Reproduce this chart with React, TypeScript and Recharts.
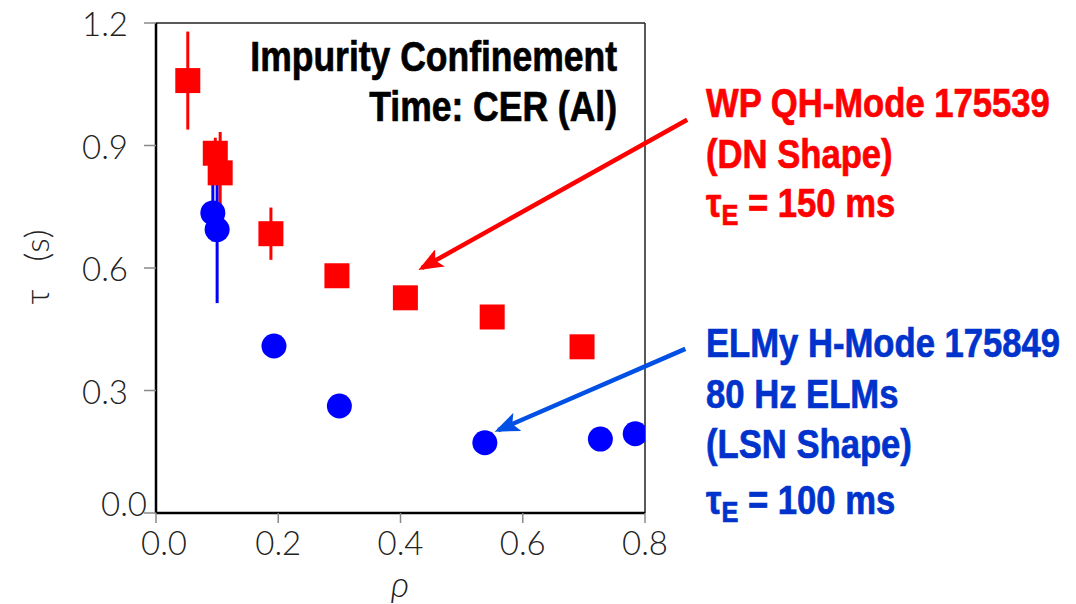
import React from "react";
import {
  ScatterChart,
  Scatter,
  XAxis,
  YAxis,
  ErrorBar,
  ReferenceLine,
  Customized,
} from "recharts";

// WP QH-mode 175539 (red squares)
const qhRho = [0.052, 0.097, 0.105, 0.188, 0.296, 0.408, 0.55, 0.697];
const qhTau = [1.059, 0.881, 0.833, 0.684, 0.581, 0.527, 0.48, 0.407];
const qhErr = [0.12, 0.038, 0.1, 0.064, 0, 0, 0, 0];

// ELMy H-mode 175849 (blue circles)
const hRho = [0.093, 0.1, 0.193, 0.3, 0.538, 0.727, 0.784];
const hTau = [0.735, 0.694, 0.409, 0.262, 0.172, 0.181, 0.194];
const hErr = [0.07, 0.18, 0, 0, 0, 0, 0];

const xTicks = [0, 0.2, 0.4, 0.6, 0.8];
const yTicks = [0, 0.3, 0.6, 0.9, 1.2];

// arrows: [x1, y1, x2, y2] in data units
const redArrow = [0.869, 0.963, 0.435, 0.6];
const blueArrow = [0.866, 0.402, 0.56, 0.203];

const qhData = qhRho.map((r, i) => ({ rho: r, tau: qhTau[i], err: qhErr[i] }));
const hData = hRho.map((r, i) => ({ rho: r, tau: hTau[i], err: hErr[i] }));

const RED = "#ff0000";
const BLUE = "#0000ff";
const tickFont = "Lato";
const TICK_SIZE = 33;

const Square = (p: any) => (
  <rect x={p.cx - 12.5} y={p.cy - 12.5} width={25} height={25} fill={RED} />
);
const Dot = (p: any) => <circle cx={p.cx} cy={p.cy} r={12.5} fill={BLUE} />;

const arrowShape = (color: string, id: string) => (p: any) =>
  (
    <g>
      <defs>
        <marker
          id={id}
          markerWidth="5.5"
          markerHeight="4.4"
          refX="4.6"
          refY="2.2"
          orient="auto"
          markerUnits="strokeWidth"
        >
          <path d="M0,0 L5.5,2.2 L0,4.4 L1.2,2.2 z" fill={color} />
        </marker>
      </defs>
      <line
        x1={p.x1}
        y1={p.y1}
        x2={p.x2}
        y2={p.y2}
        stroke={color}
        strokeWidth={4.5}
        markerEnd={`url(#${id})`}
      />
    </g>
  );

const YTick = (p: any) => {
  const v = p.payload.value;
  const zero = v === 0;
  return (
    <text
      x={p.x + (zero ? 5 : -14)}
      y={p.y + (zero ? -10 : 0)}
      textAnchor="end"
      dominantBaseline="central"
      fontFamily={tickFont}
      fontWeight={300}
      fontSize={TICK_SIZE}
      fill="#222"
    >
      {v.toFixed(1)}
    </text>
  );
};

const XTick = (p: any) => {
  const v = p.payload.value;
  return (
    <text
      x={p.x + (v === 0 ? 8 : 0)}
      y={p.y + 30}
      textAnchor="middle"
      fontFamily={tickFont}
      fontWeight={300}
      fontSize={TICK_SIZE}
      fill="#222"
    >
      {v.toFixed(1)}
    </text>
  );
};

// condensed bold text (narrow face is not installed, so squeeze a regular one)
const NText = ({ x, y, anchor = "start", size = 41, fill, children }: any) => (
  <text
    transform={`translate(${x} ${y}) scale(0.845 1)`}
    x={0}
    y={0}
    textAnchor={anchor}
    fontFamily="Liberation Sans, Arial, sans-serif"
    fontWeight={700}
    fontSize={size}
    fill={fill}
    stroke={fill}
    strokeWidth={0.7}
  >
    {children}
  </text>
);

const TauE = ({ rest }: any) => (
  <>
    τ<tspan fontSize={30} dy={8}>E</tspan>
    <tspan dy={-8}>{rest}</tspan>
  </>
);

const Notes = () => (
  <g>
    <NText x={617} y={71} anchor="end" size={42} fill="#000">
      Impurity Confinement
    </NText>
    <NText x={617} y={121} anchor="end" size={42} fill="#000">
      Time: CER (Al)
    </NText>

    <NText x={706} y={117} fill={RED}>WP QH-Mode 175539</NText>
    <NText x={706} y={168} fill={RED}>(DN Shape)</NText>
    <NText x={706} y={217} fill={RED}>
      <TauE rest=" = 150 ms" />
    </NText>

    <NText x={706} y={357} fill="#0033cc">ELMy H-Mode 175849</NText>
    <NText x={706} y={408} fill="#0033cc">80 Hz ELMs</NText>
    <NText x={706} y={458} fill="#0033cc">(LSN Shape)</NText>
    <NText x={706} y={514} fill="#0033cc">
      <TauE rest=" = 100 ms" />
    </NText>

    <text
      x={35}
      y={267}
      transform="rotate(-90 35 267)"
      textAnchor="middle"
      dominantBaseline="central"
      fontFamily={tickFont}
      fontWeight={300}
      fontSize={34}
      fill="#222"
      style={{ whiteSpace: "pre" }}
    >
      {"τ   (s)"}
    </text>
    <text
      x={400}
      y={597}
      textAnchor="middle"
      fontFamily={tickFont}
      fontStyle="italic"
      fontWeight={300}
      fontSize={36}
      fill="#222"
    >
      ρ
    </text>
  </g>
);

export default function App() {
  return (
    <div style={{ position: "absolute", left: 0, top: 0, background: "#fff" }}>
      <ScatterChart
        width={1076}
        height={604}
        margin={{ top: 23, right: 431, bottom: 0, left: 0 }}
      >
        <XAxis
          type="number"
          dataKey="rho"
          domain={[0, 0.8]}
          ticks={xTicks}
          height={91}
          tickSize={10}
          tickLine={{ stroke: "#888", strokeWidth: 1.5 }}
          axisLine={{ stroke: "#000", strokeWidth: 2.5 }}
          tick={<XTick />}
          allowDataOverflow
        />
        <YAxis
          type="number"
          dataKey="tau"
          domain={[0, 1.2]}
          ticks={yTicks}
          width={156}
          tickSize={12}
          tickLine={{ stroke: "#888", strokeWidth: 1.5 }}
          axisLine={{ stroke: "#000", strokeWidth: 2.5 }}
          tick={<YTick />}
          allowDataOverflow
        />
        <ReferenceLine y={1.2} stroke="#222" strokeWidth={1.5} />
        <ReferenceLine x={0.8} stroke="#222" strokeWidth={1.5} />

        <Scatter data={hData} shape={Dot} isAnimationActive={false}>
          <ErrorBar
            dataKey="err"
            direction="y"
            width={0}
            stroke={BLUE}
            strokeWidth={3}
            isAnimationActive={false}
          />
        </Scatter>
        <Scatter data={qhData} shape={Square} isAnimationActive={false}>
          <ErrorBar
            dataKey="err"
            direction="y"
            width={0}
            stroke={RED}
            strokeWidth={3}
            isAnimationActive={false}
          />
        </Scatter>

        <ReferenceLine
          segment={[
            { x: redArrow[0], y: redArrow[1] },
            { x: redArrow[2], y: redArrow[3] },
          ]}
          ifOverflow="visible"
          shape={arrowShape("#ff0000", "arrRed")}
        />
        <ReferenceLine
          segment={[
            { x: blueArrow[0], y: blueArrow[1] },
            { x: blueArrow[2], y: blueArrow[3] },
          ]}
          ifOverflow="visible"
          shape={arrowShape("#0050e6", "arrBlue")}
        />
        <Customized component={Notes} />
      </ScatterChart>
    </div>
  );
}
